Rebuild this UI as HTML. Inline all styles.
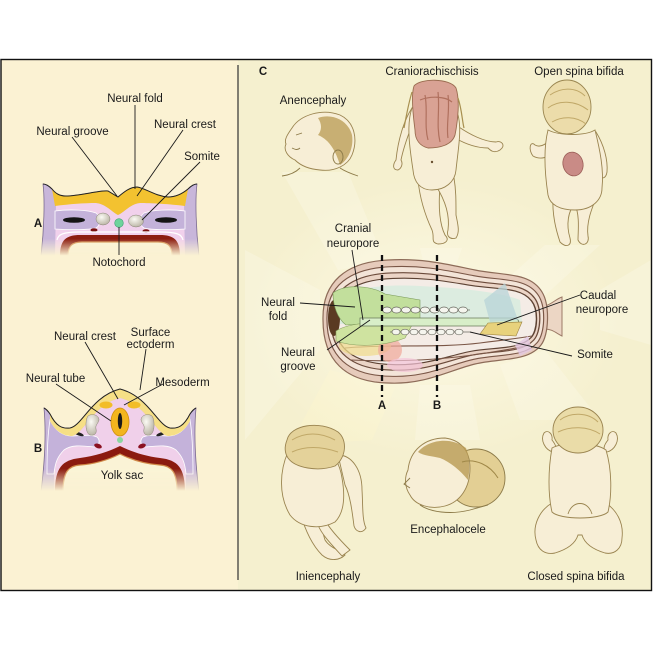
<!DOCTYPE html>
<html><head><meta charset="utf-8"><style>
html,body{margin:0;padding:0;background:#fff;}
svg{display:block;}
text{font-family:"Liberation Sans",Arial,sans-serif;font-size:11.5px;fill:#1a1a1a;}
.b{font-weight:bold;}
.ln{stroke:#1a1a1a;stroke-width:0.9;fill:none;}
.bb{fill:#f7eed6;stroke:#9a8450;stroke-width:0.9;}
</style></head><body>
<svg width="653" height="653" viewBox="0 0 653 653" xmlns="http://www.w3.org/2000/svg">
<defs>
<linearGradient id="gA" gradientUnits="userSpaceOnUse" x1="0" y1="150" x2="0" y2="270">
<stop offset="0" stop-color="#fff"/><stop offset="0.74" stop-color="#fff"/><stop offset="0.88" stop-color="#000"/></linearGradient>
<mask id="mA" maskUnits="userSpaceOnUse" x="0" y="150" width="240" height="120"><rect x="0" y="150" width="240" height="120" fill="url(#gA)"/></mask>
<linearGradient id="gB" gradientUnits="userSpaceOnUse" x1="0" y1="370" x2="0" y2="500">
<stop offset="0" stop-color="#fff"/><stop offset="0.76" stop-color="#fff"/><stop offset="0.93" stop-color="#000"/></linearGradient>
<mask id="mB" maskUnits="userSpaceOnUse" x="0" y="370" width="240" height="130"><rect x="0" y="370" width="240" height="130" fill="url(#gB)"/></mask>
<radialGradient id="glow" cx="435" cy="320" r="190" gradientUnits="userSpaceOnUse" gradientTransform="translate(435 320) scale(1 0.75) translate(-435 -320)">
<stop offset="0" stop-color="#fffbea" stop-opacity="0.8"/><stop offset="0.6" stop-color="#fffbea" stop-opacity="0.3"/><stop offset="1" stop-color="#fffbea" stop-opacity="0"/></radialGradient>
<radialGradient id="som" cx="0.4" cy="0.35" r="0.7"><stop offset="0" stop-color="#fbfaf4"/><stop offset="1" stop-color="#b8b2a2"/></radialGradient>
</defs>

<rect x="1" y="59.5" width="650.5" height="531" fill="#f5f0cf"/>
<rect x="1" y="59.5" width="237" height="531" fill="#fbf2d3"/>

<g fill="#ffffff" opacity="0.2">
<polygon points="282,172 348,172 385,262 338,270"/>
<polygon points="420,248 462,248 455,268 425,268"/>
<polygon points="545,245 600,245 540,300 500,285"/>
<polygon points="600,290 651,260 651,345 600,330"/>
<polygon points="245,250 320,290 320,350 245,440"/>
<polygon points="520,420 600,420 545,350 500,365"/>
<polygon points="420,385 470,385 480,440 415,440"/>
</g>
<polygon points="330,370 395,388 372,440 290,445" fill="#fff6c8" opacity="0.35"/>
<ellipse cx="435" cy="320" rx="200" ry="150" fill="url(#glow)"/>

<rect x="1" y="59.5" width="650.5" height="531" fill="none" stroke="#111" stroke-width="1.4"/>
<line x1="238" y1="65" x2="238" y2="580" stroke="#333" stroke-width="1.2"/>

<!-- ===== Section A ===== -->
<g mask="url(#mA)">
<path d="M43,184 C46,184 49,186 52,189 C56,194 60,196 66,196 C80,196 100,190 108,191 L118,197 C124,192 130,187 137,187 C145,188 155,196 168,197 C176,197 182,194 188,189 C191,186 194,184 197,184 C195,200 196,230 199,256 L41,256 C44,230 45,200 43,184 Z" fill="#c8b6da" stroke="#7a6a90" stroke-width="0.8"/>
<path d="M56,205 C70,203 85,203 96,203 C106,204 112,212 118,215 C125,212 130,204 140,203 C150,203 170,204 184,205 L185,256 L55,256 Z" fill="#f1d1ec"/>
<path d="M55,211 C70,209 88,210 96,213 C101,217 101,225 96,228 C88,230 70,230 55,229 Z" fill="#c4b2da" stroke="#fff" stroke-width="0.8"/>
<path d="M185,211 C170,209 152,210 144,213 C139,217 139,225 144,228 C152,230 170,230 185,229 Z" fill="#c4b2da" stroke="#fff" stroke-width="0.8"/>
<ellipse cx="74" cy="220" rx="11" ry="2.8" fill="#141414"/>
<ellipse cx="166" cy="220" rx="11" ry="2.8" fill="#141414"/>
<path d="M52,189 C56,194 60,196 66,196 C80,196 100,190 108,191 L118,197 C124,192 130,187 137,187 C145,188 155,196 168,197 C176,197 182,194 188,189 L185,206 C170,204 150,203 140,203 C130,204 125,212 118,215 C112,212 106,204 96,203 C85,203 70,204 55,206 Z" fill="#f3c230"/>
<path d="M43,184 C46,184 49,186 52,189 C56,194 60,196 66,196 C80,196 100,190 108,191 L118,197 C124,192 130,187 137,187 C145,188 155,196 168,197 C176,197 182,194 188,189 C191,186 194,184 197,184" fill="none" stroke="#222" stroke-width="1"/>
<ellipse cx="103" cy="219" rx="7" ry="6" fill="url(#som)" stroke="#8a8478" stroke-width="0.5"/>
<ellipse cx="136" cy="221" rx="7.5" ry="6" fill="url(#som)" stroke="#8a8478" stroke-width="0.5"/>
<circle cx="119" cy="223" r="4.3" fill="#6fd39c" stroke="#3aa070" stroke-width="0.6"/>
<ellipse cx="94" cy="230" rx="3.5" ry="1.8" fill="#7a1010"/>
<ellipse cx="146" cy="231" rx="3.5" ry="1.8" fill="#7a1010"/>
<path d="M57,240 C58,234 64,232 80,232 L160,232 C176,232 182,234 183,240" fill="none" stroke="#fff" stroke-width="1.2"/>
<path d="M60,256 C60,240 66,235 80,235 L160,235 C174,235 180,240 180,256 L172,256 C172,246 168,242 158,242 L82,242 C72,242 68,246 68,256 Z" fill="#8c1d10"/>
<path d="M68,256 C68,246 72,242 82,242 L158,242 C168,242 172,246 172,256 Z" fill="#faf3d6" stroke="#d08a48" stroke-width="1.2"/>
</g>
<line class="ln" x1="135" y1="105" x2="135" y2="189"/>
<line class="ln" x1="72" y1="137" x2="117" y2="196"/>
<line class="ln" x1="183" y1="130" x2="137" y2="196"/>
<line class="ln" x1="200" y1="162" x2="142" y2="220"/>
<line class="ln" x1="119" y1="227" x2="119" y2="255"/>
<text x="135" y="102" text-anchor="middle">Neural fold</text>
<text x="72.5" y="135" text-anchor="middle">Neural groove</text>
<text x="185" y="128" text-anchor="middle">Neural crest</text>
<text x="202" y="160" text-anchor="middle">Somite</text>
<text x="38" y="227" text-anchor="middle" class="b">A</text>
<text x="119" y="266" text-anchor="middle">Notochord</text>

<!-- ===== Section B ===== -->
<g mask="url(#mB)">
<path d="M44,408 C46,409 48,411 50,414 C56,426 62,429 70,428 C82,426 92,396 120,389 C148,396 158,426 170,428 C178,429 184,426 190,414 C192,411 194,409 196,408 C194,430 195,460 199,492 L41,492 C45,460 46,430 44,408 Z" fill="#c8b6da" stroke="#7a6a90" stroke-width="0.8"/>
<path d="M72,436 C84,434 94,404 120,398 C146,404 156,434 168,436 L184,446 C186,455 186,470 186,492 L54,492 C54,470 54,455 56,446 Z" fill="#f0d0ea"/>
<path d="M50,420 C56,432 64,436 72,436 C82,436 90,434 97,437 C101,441 99,446 94,447 C84,446 72,444 64,450 C58,456 55,462 54,474 L47,474 C47,450 48,432 50,420 Z" fill="#c4b2da" stroke="#fff" stroke-width="0.8"/>
<path d="M190,420 C184,432 176,436 168,436 C158,436 150,434 143,437 C139,441 141,446 146,447 C156,446 168,444 176,450 C182,456 185,462 186,474 L193,474 C193,450 192,432 190,420 Z" fill="#c4b2da" stroke="#fff" stroke-width="0.8"/>
<ellipse cx="79" cy="434" rx="5" ry="1.6" fill="#222" transform="rotate(20 79 434)"/>
<ellipse cx="161" cy="434" rx="5" ry="1.6" fill="#222" transform="rotate(-20 161 434)"/>
<path d="M50,414 C56,426 62,429 70,428 C82,426 92,396 120,389 C148,396 158,426 170,428 C178,429 184,426 190,414 L190,421 C184,432 176,436 168,436 C156,434 146,404 120,398 C94,404 84,434 72,436 C64,436 56,432 50,421 Z" fill="#f6df86"/>
<path d="M44,408 C46,409 48,411 50,414 C56,426 62,429 70,428 C82,426 92,396 120,389 C148,396 158,426 170,428 C178,429 184,426 190,414 C192,411 194,409 196,408" fill="none" stroke="#222" stroke-width="1"/>
<ellipse cx="106" cy="405" rx="6.5" ry="3.5" fill="#f2bd28"/>
<ellipse cx="134" cy="405" rx="6.5" ry="3.5" fill="#f2bd28"/>
<ellipse cx="120" cy="422" rx="9" ry="14" fill="#f2b51e" stroke="#d09010" stroke-width="0.8"/>
<ellipse cx="120" cy="421" rx="2.2" ry="8" fill="#1a1a1a"/>
<path d="M88,416 C92,413 99,415 99,420 C98,424 95,425 96,429 C97,433 95,436 90,435 C85,433 85,420 88,416 Z" fill="url(#som)" stroke="#8a8478" stroke-width="0.5"/>
<path d="M152,416 C148,413 141,415 141,420 C142,424 145,425 144,429 C143,433 145,436 150,435 C155,433 155,420 152,416 Z" fill="url(#som)" stroke="#8a8478" stroke-width="0.5"/>
<circle cx="120" cy="440" r="3" fill="#8ad8a0"/>
<ellipse cx="98" cy="446" rx="4" ry="2.2" fill="#8a1020" transform="rotate(20 98 446)"/>
<ellipse cx="142" cy="446" rx="4" ry="2.2" fill="#8a1020" transform="rotate(-20 142 446)"/>
<path d="M55,492 C55,468 62,460 80,458 C95,456 108,452 120,446 C132,452 145,456 160,458 C178,460 185,468 185,492 L177,492 C177,472 172,466 160,465 C145,464 132,460 120,454 C108,460 95,464 80,465 C68,466 63,472 63,492 Z" fill="#8b1a0f"/>
<path d="M63,492 C63,472 68,466 80,465 C95,464 108,460 120,454 C132,460 145,464 160,465 C172,466 177,472 177,492 Z" fill="#faf3d6" stroke="#d08a48" stroke-width="1.2"/>
</g>
<line class="ln" x1="85" y1="342" x2="118" y2="399"/>
<line class="ln" x1="146" y1="349" x2="140" y2="390"/>
<line class="ln" x1="56" y1="384" x2="111" y2="421"/>
<line class="ln" x1="163" y1="384" x2="124" y2="405"/>
<text x="85" y="340" text-anchor="middle">Neural crest</text>
<text x="150.5" y="336" text-anchor="middle">Surface</text>
<text x="150.5" y="348" text-anchor="middle">ectoderm</text>
<text x="55.5" y="382" text-anchor="middle">Neural tube</text>
<text x="182.5" y="386" text-anchor="middle">Mesoderm</text>
<text x="38" y="452" text-anchor="middle" class="b">B</text>
<text x="122" y="479" text-anchor="middle">Yolk sac</text>

<!-- ===== Babies ===== -->
<path class="bb" d="M292,128 C300,115 322,108 340,115 C355,122 358,140 352,155 C348,165 335,172 320,170 C308,169 300,165 295,160 C288,157 283,150 286,144 C284,140 287,135 292,128 Z"/>
<path d="M318,118 C332,113 348,120 352,135 C354,148 348,160 340,165 C336,152 330,140 318,135 C322,130 322,124 318,118 Z" fill="#b89a52" opacity="0.75"/>
<ellipse cx="338" cy="157" rx="5" ry="7" fill="none" stroke="#8c7a48" stroke-width="0.9"/>
<path d="M300,168 C296,172 290,175 282,176 M340,168 C346,172 352,174 358,176 M296,135 L302,133 M292,148 C296,150 298,150 300,148" fill="none" stroke="#8c7a48" stroke-width="0.9"/>

<path class="bb" d="M412,108 C404,120 398,140 396,160 C393,164 392,170 398,170 C402,168 403,163 401,160 C404,145 410,130 414,120 Z"/>
<path class="bb" d="M456,125 C470,135 485,142 496,142 C502,140 506,146 500,150 C494,154 490,150 488,148 C475,148 462,142 455,138 Z"/>
<path class="bb" d="M418,180 C420,200 425,215 432,230 C435,238 430,242 438,244 C446,244 450,240 445,235 C440,225 438,210 440,186 Z"/>
<path class="bb" d="M436,186 C445,200 450,215 448,230 C446,236 450,240 456,238 C460,232 458,225 456,215 C456,200 456,190 454,178 Z"/>
<path class="bb" d="M412,108 C406,125 410,150 413,170 C414,182 420,190 432,190 C445,190 455,182 456,170 C458,150 462,130 458,115 Z"/>
<path d="M414,86 C420,78 450,78 456,88 C460,100 458,120 455,135 C452,145 440,148 428,148 C420,146 415,140 415,130 C413,115 411,95 414,86 Z" fill="#d9a294" stroke="#9a6c50" stroke-width="0.9"/>
<path d="M425,95 C428,110 424,125 428,140 M438,92 C440,110 436,125 440,142 M448,95 C450,110 446,125 448,138 M420,100 C430,96 445,96 452,102" fill="none" stroke="#b0705e" stroke-width="1.2"/>
<path d="M412,92 C408,105 406,118 404,128 M458,98 C462,110 462,120 464,128" fill="none" stroke="#a89050" stroke-width="1.2"/>
<circle cx="432" cy="162" r="1.2" fill="#6a5030"/>

<path class="bb" d="M550,140 C545,145 540,148 535,145 C530,140 528,150 533,156 C540,160 548,158 552,152 Z"/>
<path class="bb" d="M596,132 C604,145 608,160 607,172 C606,178 602,180 600,175 C599,165 596,150 592,140 Z"/>
<path class="bb" d="M553,196 C552,215 556,230 560,242 C566,248 572,246 570,238 C566,225 568,210 575,205 C580,215 578,232 578,240 C582,248 590,244 588,236 C586,222 592,208 598,193 Z"/>
<path class="bb" d="M548,130 C543,150 545,175 548,195 C550,205 560,210 575,210 C592,210 602,200 602,188 C604,170 600,150 595,130 C585,136 560,136 548,130 Z"/>
<ellipse cx="567" cy="107" rx="24" ry="27" fill="#ecdcaa" stroke="#9a8650" stroke-width="0.9"/>
<path d="M550,95 C560,88 575,86 585,96 M548,108 C558,100 575,100 588,110 M552,122 C562,116 576,116 586,124" fill="none" stroke="#c0a868" stroke-width="1"/>
<ellipse cx="573" cy="164" rx="10" ry="12" fill="#c98b86" stroke="#9a5c56" stroke-width="0.8" transform="rotate(-15 573 164)"/>

<path class="bb" d="M338,455 C352,455 362,470 362,490 C363,505 362,520 366,528 C362,534 356,532 354,526 C352,510 350,495 345,485 Z"/>
<path class="bb" d="M300,512 C305,530 312,545 322,555 C330,562 340,560 345,555 C340,550 330,548 325,540 C320,525 322,515 325,508 Z"/>
<path class="bb" d="M325,520 C330,530 345,545 350,550 L342,556 C332,545 322,535 318,525 Z"/>
<path class="bb" d="M288,452 C280,470 278,495 290,515 C300,528 320,530 335,522 C345,512 345,495 342,478 C340,465 335,455 325,450 Z"/>
<path d="M287,440 C290,425 320,420 338,432 C348,440 346,458 335,466 C318,472 295,468 288,458 C284,452 285,445 287,440 Z" fill="#e4d29a" stroke="#9a8450" stroke-width="0.9"/>
<path d="M292,440 C305,432 320,432 335,440 M292,452 C305,446 320,446 338,452" fill="none" stroke="#c0a868" stroke-width="1"/>

<circle cx="476" cy="478" r="29" fill="#e3cf94" stroke="#8c7a48" stroke-width="0.9"/>
<path class="bb" d="M408,470 C410,450 425,438 445,438 C460,440 470,450 470,468 C470,488 460,502 445,506 C430,510 415,505 410,495 C405,488 404,478 408,470 Z"/>
<path d="M418,452 C428,440 450,436 466,448 C470,458 470,470 468,480 C460,470 450,462 440,458 C432,456 424,456 418,452 Z" fill="#b89a52" opacity="0.8"/>
<path d="M420,505 C430,512 450,515 470,510 L488,505 M410,478 L404,484 L410,488" fill="none" stroke="#8c7a48" stroke-width="0.9"/>
<path d="M462,462 C475,458 490,465 498,478" fill="none" stroke="#a08848" stroke-width="1"/>

<path class="bb" d="M553,452 C545,450 540,440 544,433 C548,429 553,434 552,440 C556,445 558,450 553,452 Z"/>
<path class="bb" d="M607,452 C615,450 620,440 616,433 C612,429 607,434 608,440 C604,445 602,450 607,452 Z"/>
<path class="bb" d="M552,503 C540,510 532,525 536,540 C538,550 545,555 555,553 C565,550 575,545 578,535 L582,535 C585,545 595,550 605,553 C615,555 622,548 622,538 C624,522 616,510 606,503 Z"/>
<path class="bb" d="M552,448 C548,470 548,495 552,512 C560,520 600,520 608,512 C612,495 612,470 606,450 C595,442 562,442 552,448 Z"/>
<path d="M568,514 C572,500 588,500 592,514" fill="none" stroke="#9a8450" stroke-width="0.9"/>
<ellipse cx="578" cy="430" rx="25" ry="23" fill="#eadca8" stroke="#9a8450" stroke-width="0.9"/>
<path d="M560,420 C570,412 588,412 598,422 M558,432 C570,426 588,426 600,434" fill="none" stroke="#c0a868" stroke-width="1"/>

<!-- ===== Embryo ===== -->
<path d="M545,306 C552,304 556,299 562,297 L562,336 C556,333 552,329 545,329 Z" fill="#ecd6c4" stroke="#9c7a66" stroke-width="1"/>
<path id="eo" d="M323,320 C322,282 346,262 388,260 C425,258 450,265 475,270 C505,276 530,272 542,292 C550,305 549,335 541,345 C528,362 500,358 475,364 C450,370 425,385 388,383 C345,382 323,360 323,320 Z" fill="#e6cbbb" stroke="#8d6b58" stroke-width="1.2"/>
<path d="M323,320 C322,282 346,262 388,260 C425,258 450,265 475,270 C505,276 530,272 542,292 C550,305 549,335 541,345 C528,362 500,358 475,364 C450,370 425,385 388,383 C345,382 323,360 323,320 Z" transform="translate(437 321.5) scale(0.965 0.89) translate(-437 -321.5)" fill="#f3e4d8" stroke="#7a5646" stroke-width="1.2"/>
<path d="M323,320 C322,282 346,262 388,260 C425,258 450,265 475,270 C505,276 530,272 542,292 C550,305 549,335 541,345 C528,362 500,358 475,364 C450,370 425,385 388,383 C345,382 323,360 323,320 Z" transform="translate(437 321.5) scale(0.93 0.79) translate(-437 -321.5)" fill="#ebd4c6" stroke="#6b4a3a" stroke-width="1.4"/>
<path d="M323,320 C322,282 346,262 388,260 C425,258 450,265 475,270 C505,276 530,272 542,292 C550,305 549,335 541,345 C528,362 500,358 475,364 C450,370 425,385 388,383 C345,382 323,360 323,320 Z" transform="translate(437 321.5) scale(0.9 0.7) translate(-437 -321.5)" fill="#f4ece6" stroke="#5d4233" stroke-width="1.6"/>
<path d="M338,300 C350,288 380,284 420,286 C460,288 500,292 520,300 L522,322 L340,324 Z" fill="#dcece0"/>
<path d="M345,348 C390,344 440,348 480,343 C505,340 520,338 532,336" fill="none" stroke="#7a5646" stroke-width="1.1"/>
<path d="M350,360 C395,362 440,360 480,354 C505,350 520,348 530,344" fill="none" stroke="#7a5646" stroke-width="1.1"/>
<ellipse cx="365" cy="346" rx="26" ry="10" fill="#f0dc90" opacity="0.75"/>
<circle cx="390" cy="350" r="12" fill="#f0a898" opacity="0.7"/>
<ellipse cx="405" cy="365" rx="18" ry="7" fill="#f3c4d8" opacity="0.7"/>
<path d="M515,345 L528,336 L532,350 L520,356 Z" fill="#e4c8e4" opacity="0.8"/>
<ellipse cx="334" cy="318" rx="6" ry="18" fill="#5a3a22"/>
<path d="M333,293 C345,284 370,285 385,294 L420,300 L420,320 L346,325 C337,318 333,305 333,293 Z" fill="#c2df9c" stroke="#7a9a5a" stroke-width="0.6"/>
<path d="M336,331 C350,322 380,321 412,325 L405,338 C385,346 356,348 336,341 Z" fill="#cfe3a0" stroke="#8aa060" stroke-width="0.6"/>
<path d="M360,318 L515,318 C520,320 520,324 515,326 L360,326 Z" fill="#d8eec8" stroke="#6a7a5a" stroke-width="0.8"/>
<polygon points="484,300 505,283 518,320 490,322" fill="#b8d4d8" opacity="0.75"/>
<path d="M488,323 L522,322 L516,336 L480,334 Z" fill="#e8d27c" stroke="#9a8040" stroke-width="0.6"/>
<line x1="381" y1="310" x2="470" y2="310" stroke="#6a6a60" stroke-width="0.8"/>
<g fill="#f5f5ee" stroke="#6a6a60" stroke-width="0.7">
<ellipse cx="387" cy="310" rx="4.5" ry="3"/><ellipse cx="396.5" cy="310" rx="4.5" ry="3"/><ellipse cx="406" cy="310" rx="4.5" ry="3"/><ellipse cx="415.5" cy="310" rx="4.5" ry="3"/><ellipse cx="425" cy="310" rx="4.5" ry="3"/><ellipse cx="434.5" cy="310" rx="4.5" ry="3"/><ellipse cx="444" cy="310" rx="4.5" ry="3"/><ellipse cx="453.5" cy="310" rx="4.5" ry="3"/><ellipse cx="463" cy="310" rx="4.5" ry="3"/>
</g>
<line x1="390" y1="332" x2="470" y2="332" stroke="#6a6a60" stroke-width="0.8"/>
<g fill="#f5f5ee" stroke="#6a6a60" stroke-width="0.7">
<ellipse cx="396" cy="332" rx="4" ry="2.8"/><ellipse cx="405" cy="332" rx="4" ry="2.8"/><ellipse cx="414" cy="332" rx="4" ry="2.8"/><ellipse cx="423" cy="332" rx="4" ry="2.8"/><ellipse cx="432" cy="332" rx="4" ry="2.8"/><ellipse cx="441" cy="332" rx="4" ry="2.8"/><ellipse cx="450" cy="332" rx="4" ry="2.8"/><ellipse cx="459" cy="332" rx="4" ry="2.8"/>
</g>

<line x1="382" y1="255" x2="382" y2="397" stroke="#111" stroke-width="2.3" stroke-dasharray="6 4"/>
<line x1="437" y1="255" x2="437" y2="397" stroke="#111" stroke-width="2.3" stroke-dasharray="6 4"/>
<text x="382" y="409" text-anchor="middle" class="b">A</text>
<text x="437" y="409" text-anchor="middle" class="b">B</text>

<line class="ln" x1="352" y1="250" x2="363" y2="320"/>
<line class="ln" x1="300" y1="303" x2="355" y2="307"/>
<line class="ln" x1="327" y1="350" x2="370" y2="320"/>
<line class="ln" x1="580" y1="295" x2="497" y2="325"/>
<line class="ln" x1="572" y1="356" x2="470" y2="332"/>

<text x="263" y="75" text-anchor="middle" class="b">C</text>
<text x="432" y="75" text-anchor="middle">Craniorachischisis</text>
<text x="579" y="75" text-anchor="middle">Open spina bifida</text>
<text x="313" y="104" text-anchor="middle">Anencephaly</text>
<text x="353" y="232" text-anchor="middle">Cranial</text>
<text x="353" y="247" text-anchor="middle">neuropore</text>
<text x="278" y="306" text-anchor="middle">Neural</text>
<text x="278" y="320" text-anchor="middle">fold</text>
<text x="298" y="356" text-anchor="middle">Neural</text>
<text x="298" y="370" text-anchor="middle">groove</text>
<text x="598" y="299" text-anchor="middle">Caudal</text>
<text x="602" y="313" text-anchor="middle">neuropore</text>
<text x="595" y="358" text-anchor="middle">Somite</text>
<text x="328" y="580" text-anchor="middle">Iniencephaly</text>
<text x="448" y="533" text-anchor="middle">Encephalocele</text>
<text x="576" y="580" text-anchor="middle">Closed spina bifida</text>
</svg>
</body></html>
